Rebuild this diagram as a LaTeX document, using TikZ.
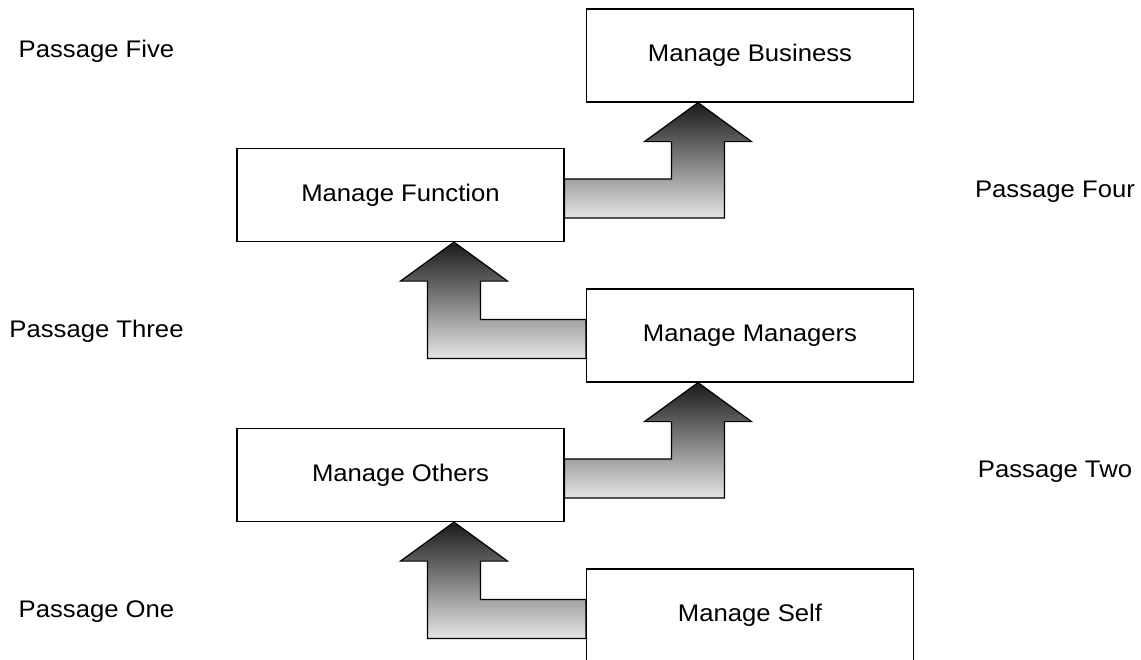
\documentclass[tikz,border=0pt]{standalone}
\usepackage{fontspec}
\setmainfont[FakeStretch=1.07]{Liberation Sans}
\usetikzlibrary{calc}

\tikzset{
  stage/.style={draw=black, line width=1.2pt, fill=white, inner sep=0pt,
    minimum width=327pt, minimum height=93pt,
    font=\fontsize{24}{28}\selectfont},
  passage/.style={inner sep=0pt, font=\fontsize{24}{28}\selectfont},
  climbarrow/.style={draw=black, line width=1.2pt, line join=miter,
    top color=black!90, bottom color=black!10},
}

% block arrow: #1 start on box side, #2 tip, #3 = 1 (arm runs right) or -1 (arm runs left)
\newcommand{\climb}[3]{%
  \path[climbarrow] let \p1=#1, \p2=#2 in
    (\x1,\y1+16pt) -- ({\x2-(#3*26.5pt)},\y1+16pt)
    -- ({\x2-(#3*26.5pt)},\y2-39pt) -- ({\x2-(#3*53.5pt)},\y2-39pt)
    -- (\x2,\y2)
    -- ({\x2+(#3*53.5pt)},\y2-39pt) -- ({\x2+(#3*26.5pt)},\y2-39pt)
    -- ({\x2+(#3*26.5pt)},\y1-23pt) -- (\x1,\y1-23pt) -- cycle;
}

\begin{document}
\begin{tikzpicture}[x=1pt,y=-1pt]
\useasboundingbox (0,0) rectangle (1141,659);

% stages
\node[stage] (biz) at (750,55.5) {Manage Business};
\node[stage] (fun) at (400.5,195) {Manage Function};
\node[stage] (mgr) at (750,335.5) {Manage Managers};
\node[stage] (oth) at (400.5,475) {Manage Others};
\node[stage] (self) at (750,615.5) {Manage Self};

% passages
\node[passage] (p5) at (96.5,51.5) {Passage Five};
\node[passage] (p4) at (1055,191.5) {Passage Four};
\node[passage] (p3) at (96.5,331.5) {Passage Three};
\node[passage] (p2) at (1055,471.5) {Passage Two};
\node[passage] (p1) at (96.5,611.5) {Passage One};

% arrows
\climb{(self.west)}{($(oth.south)+(53.5,0)$)}{-1}
\climb{(oth.east)}{($(mgr.south)+(-52,0)$)}{1}
\climb{(mgr.west)}{($(fun.south)+(53.5,0)$)}{-1}
\climb{(fun.east)}{($(biz.south)+(-52,0)$)}{1}
\end{tikzpicture}
\end{document}
